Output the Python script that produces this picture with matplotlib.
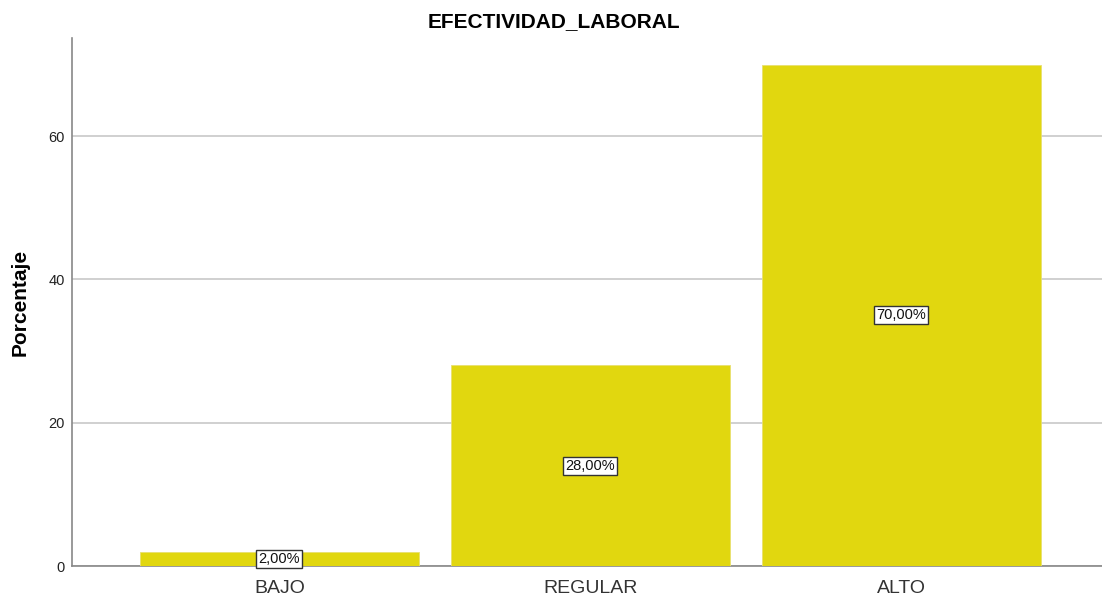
import matplotlib
matplotlib.use("Agg")
import matplotlib.pyplot as plt

categories = ["BAJO", "REGULAR", "ALTO"]
percentages = [2.0, 28.0, 70.0]
y_ticks = [0, 20, 40, 60]

plt.rcParams["font.family"] = ["Liberation Sans", "DejaVu Sans"]

fig = plt.figure(figsize=(11.02, 5.98), dpi=100)
ax = fig.add_axes([72 / 1102, 32 / 598, 1 - 72 / 1102, (566 - 38) / 598])

x = range(len(categories))
ax.bar(x, percentages, width=0.897, color="#E1D70F", edgecolor="#E8E070",
       linewidth=0.6, zorder=3)

for xi, v in zip(x, percentages):
    ax.text(xi, v / 2, f"{v:.2f}%".replace(".", ","), ha="center", va="center",
            fontsize=10.5, color="#111111", zorder=4,
            bbox=dict(boxstyle="square,pad=0.15", facecolor="white",
                      edgecolor="#333333", linewidth=1.0))

ax.set_xlim(-0.667, 2.645)
ax.set_ylim(0, 73.7)
ax.set_xticks(list(x))
ax.set_xticklabels(categories, fontsize=14, color="#333333")
ax.set_yticks(y_ticks)
ax.set_yticklabels([str(t) for t in y_ticks], fontsize=10.5, color="#222222")
ax.tick_params(axis="both", length=0, pad=5)
ax.tick_params(axis="x", pad=10)

ax.yaxis.grid(True, color="#C8C8C8", linewidth=1.2, zorder=0)
ax.set_axisbelow(True)

for side in ("top", "right"):
    ax.spines[side].set_visible(False)
for side in ("left", "bottom"):
    ax.spines[side].set_color("#888888")
    ax.spines[side].set_linewidth(1.2)

ax.set_ylabel("Porcentaje", fontsize=15, fontweight="bold", labelpad=14)
fig.text(553.5 / 1102, 1 - 22 / 598, "EFECTIVIDAD_LABORAL",
         ha="center", va="center", fontsize=15, fontweight="bold")

fig.savefig("out.png", dpi=100)
